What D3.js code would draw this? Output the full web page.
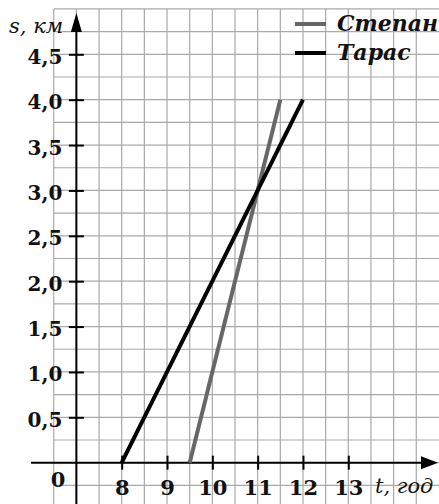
<!DOCTYPE html>
<html>
<head>
<meta charset="utf-8">
<script src="https://cdn.jsdelivr.net/npm/d3@7"></script>
<style>
    body { margin: 0; background: #fff; }
    svg { display: block; }
    text { font-family: "DejaVu Serif", serif; fill: #111; }
</style>
</head>
<body>
<svg id="chart" width="439" height="504"></svg>
<script>
// hours on the t axis (the axis is broken between 0 and 8)
const timeTicks = [8, 9, 10, 11, 12, 13];
// km on the s axis
const distTicks = [0.5, 1.0, 1.5, 2.0, 2.5, 3.0, 3.5, 4.0, 4.5];
const seriesNames = ["Степан", "Тарас"];
const seriesColors = ["#676767", "#000"];
// each walker: time (hours) and distance (km)
const stepanTime = [9.5, 11.5];
const stepanDist = [0, 4];
const tarasTime = [8, 12];
const tarasDist = [0, 4];

const svg = d3.select("#chart"),
    width = +svg.attr("width"),
    height = +svg.attr("height");

const x = d3.scaleLinear().domain([8, 13]).range([121.7, 348.3]);
const y = d3.scaleLinear().domain([0, 4.5]).range([462.7, 54.3]);
const originX = x(7); // y axis sits two cells left of 8
const originY = y(0);

// squared paper
const grid = svg.append("g").attr("stroke", "#a9a9a9").attr("stroke-width", 1.2);
const gridTop = y(5), gridLeft = x(6.5);
grid.selectAll("line.v")
    .data(d3.range(6.5, 14.51, 0.5))
    .enter().append("line")
    .attr("class", "v")
    .attr("x1", d => x(d)).attr("x2", d => x(d))
    .attr("y1", gridTop).attr("y2", height);
grid.selectAll("line.h")
    .data(d3.range(-0.75, 5.01, 0.25))
    .enter().append("line")
    .attr("class", "h")
    .attr("x1", gridLeft).attr("x2", width)
    .attr("y1", d => y(d)).attr("y2", d => y(d));

// axes
const axes = svg.append("g").attr("stroke", "#000").attr("stroke-width", 2);
axes.append("line")
    .attr("x1", 31).attr("x2", 428)
    .attr("y1", originY).attr("y2", originY);
axes.append("line")
    .attr("x1", originX).attr("x2", originX)
    .attr("y1", height).attr("y2", 26);
svg.append("path")
    .attr("d", `M${438},${originY} L${421},${originY - 6.5} L${421},${originY + 6.5} Z`)
    .attr("fill", "#000");
svg.append("path")
    .attr("d", `M${originX},${13} L${originX - 5.5},${32} L${originX + 5.5},${32} Z`)
    .attr("fill", "#000");

const fmt = d => d3.format(".1f")(d).replace(".", ",");

const yAxis = svg.append("g")
    .attr("transform", `translate(${originX},0)`)
    .call(d3.axisLeft(y).tickValues(distTicks).tickFormat(fmt).tickSizeOuter(0));
yAxis.select(".domain").remove();
yAxis.selectAll(".tick line")
    .attr("x1", -7.5).attr("x2", 7.5)
    .attr("stroke", "#000").attr("stroke-width", 2);
yAxis.selectAll(".tick text")
    .attr("x", -14).attr("dy", "9px")
    .style("font-size", "20px").style("font-weight", "bold")
    .style("font-family", "DejaVu Serif").attr("fill", "#111");

const xAxis = svg.append("g")
    .attr("transform", `translate(0,${originY})`)
    .call(d3.axisBottom(x).tickValues(timeTicks).tickFormat(d3.format("d")).tickSizeOuter(0));
xAxis.select(".domain").remove();
xAxis.selectAll(".tick line")
    .attr("y1", -7).attr("y2", 7)
    .attr("stroke", "#000").attr("stroke-width", 2);
xAxis.selectAll(".tick text")
    .attr("y", 32).attr("dy", null)
    .style("font-size", "21px").style("font-weight", "bold")
    .style("font-family", "DejaVu Serif").attr("fill", "#111");

// origin and axis names
svg.append("text")
    .attr("x", 58).attr("y", 487)
    .attr("text-anchor", "middle")
    .style("font-size", "21px").style("font-weight", "bold")
    .text("0");
svg.append("text")
    .attr("x", 375).attr("y", 493)
    .style("font-size", "21px").style("font-style", "italic")
    .text("t, год");
svg.append("text")
    .attr("x", 9).attr("y", 33)
    .style("font-size", "21px").style("font-style", "italic")
    .text("s, км");

// the two walkers
const line = d3.line().x(d => x(d[0])).y(d => y(d[1]));
const series = [
    d3.zip(stepanTime, stepanDist),
    d3.zip(tarasTime, tarasDist)
];
svg.append("g").selectAll("path")
    .data(series)
    .enter().append("path")
    .attr("d", line)
    .attr("fill", "none")
    .attr("stroke", (d, i) => seriesColors[i])
    .attr("stroke-width", 4);

// legend
const legend = svg.append("g").selectAll("g")
    .data(seriesNames)
    .enter().append("g")
    .attr("transform", (d, i) => `translate(295,${24 + i * 29})`);
legend.append("line")
    .attr("x1", 0).attr("x2", 31)
    .attr("stroke", (d, i) => seriesColors[i])
    .attr("stroke-width", 4);
legend.append("text")
    .attr("x", 42).attr("y", 7)
    .style("font-size", "22px").style("font-weight", "bold").style("font-style", "italic")
    .attr("fill", "#000")
    .text(d => d);
</script>
</body>
</html>
